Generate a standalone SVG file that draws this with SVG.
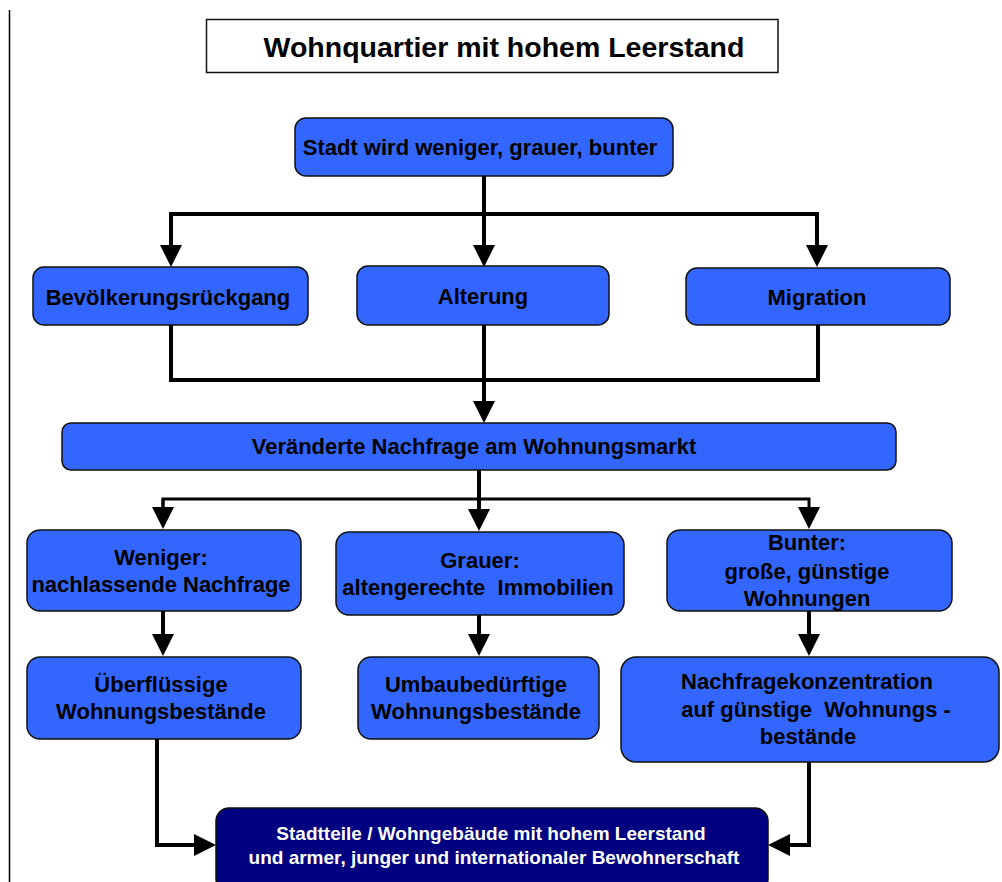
<svg xmlns="http://www.w3.org/2000/svg" width="1002" height="882" viewBox="0 0 1002 882">
<style>
.box{fill:#3366ff;stroke:#111;stroke-width:1.5}
.dark{fill:#000080;stroke:#111;stroke-width:1.5}
.t{font-family:"Liberation Sans",Arial,sans-serif;font-weight:bold;font-size:22px;fill:#000;text-anchor:middle}
.w{font-family:"Liberation Sans",Arial,sans-serif;font-weight:bold;font-size:19px;fill:#fff;text-anchor:middle}
.ln{fill:none;stroke:#000;stroke-width:4}
.ln3{fill:none;stroke:#000;stroke-width:3}
</style>
<defs>
<marker id="ah" markerUnits="userSpaceOnUse" markerWidth="22" markerHeight="22" viewBox="0 0 22 22" refX="12" refY="11" orient="auto">
<path d="M0,0 L22,11 L0,22 z" fill="#000"/>
</marker>
</defs>
<rect width="1002" height="882" fill="#fff"/>
<line x1="9.5" y1="10" x2="9.5" y2="882" stroke="#000" stroke-width="1.5"/>

<g id="title">
<rect x="206.5" y="19.5" width="571.5" height="53" fill="#fff" stroke="#111" stroke-width="1.5"/>
<text x="504" y="56.5" font-family="Liberation Sans, Arial, sans-serif" font-weight="bold" font-size="28.5" text-anchor="middle">Wohnquartier mit hohem Leerstand</text>
</g>

<g id="connectors">
<path class="ln" d="M484,176 V257" marker-end="url(#ah)"/>
<path class="ln" d="M171,257 V214 H817 V257" marker-end="url(#ah)"/>
<path class="ln" d="M171,214 V257" marker-end="url(#ah)"/>
<path class="ln" d="M171,325 V380 H818 V325"/>
<path class="ln" d="M484,325 V413" marker-end="url(#ah)"/>
<path class="ln" d="M479,470 V521" marker-end="url(#ah)"/>
<path class="ln3" d="M163,519 V499 H809 V519" marker-end="url(#ah)"/>
<path class="ln3" d="M163,499 V519" marker-end="url(#ah)"/>
<path class="ln" d="M163,611 V646" marker-end="url(#ah)"/>
<path class="ln" d="M479,615 V646" marker-end="url(#ah)"/>
<path class="ln" d="M809,611 V646" marker-end="url(#ah)"/>
<path class="ln" d="M157,739 V845 H206" marker-end="url(#ah)"/>
<path class="ln" d="M809,762 V845 H778" marker-end="url(#ah)"/>
</g>

<g id="n-stadt">
<rect class="box" x="295" y="118" width="378" height="58" rx="11"/>
<text class="t" x="480" y="155">Stadt wird weniger, grauer, bunter</text>
</g>

<g id="n-bev">
<rect class="box" x="33" y="267" width="275" height="58" rx="11"/>
<text class="t" x="168" y="305">Bevölkerungsrückgang</text>
</g>
<g id="n-alterung">
<rect class="box" x="357" y="266" width="252" height="59" rx="11"/>
<text class="t" x="483" y="304">Alterung</text>
</g>
<g id="n-migration">
<rect class="box" x="686" y="268" width="264" height="57" rx="11"/>
<text class="t" x="817" y="305">Migration</text>
</g>

<g id="n-nachfrage">
<rect class="box" x="62" y="423" width="834" height="47" rx="9"/>
<text class="t" x="474" y="454" font-size="21.6">Veränderte Nachfrage am Wohnungsmarkt</text>
</g>

<g id="n-weniger">
<rect class="box" x="27" y="530" width="274" height="81" rx="13"/>
<text class="t" x="161" y="565">Weniger:</text>
<text class="t" x="161" y="592">nachlassende Nachfrage</text>
</g>
<g id="n-grauer">
<rect class="box" x="336" y="532" width="288" height="83" rx="13"/>
<text class="t" x="480" y="568">Grauer:</text>
<text class="t" x="478" y="595" xml:space="preserve">altengerechte  Immobilien</text>
</g>
<g id="n-bunter">
<rect class="box" x="667" y="530" width="285" height="81" rx="13"/>
<text class="t" x="807" y="550">Bunter:</text>
<text class="t" x="807" y="579">große, günstige</text>
<text class="t" x="807" y="606">Wohnungen</text>
</g>

<g id="n-ueberfluessig">
<rect class="box" x="27" y="657" width="274" height="82" rx="13"/>
<text class="t" x="161" y="692">Überflüssige</text>
<text class="t" x="161" y="719">Wohnungsbestände</text>
</g>
<g id="n-umbau">
<rect class="box" x="358" y="657" width="241" height="82" rx="13"/>
<text class="t" x="476" y="692">Umbaubedürftige</text>
<text class="t" x="476" y="719">Wohnungsbestände</text>
</g>
<g id="n-konzentration">
<rect class="box" x="621" y="657" width="378" height="105" rx="15"/>
<text class="t" x="807" y="689">Nachfragekonzentration</text>
<text class="t" x="816" y="717" xml:space="preserve">auf günstige  Wohnungs -</text>
<text class="t" x="808" y="744">bestände</text>
</g>

<g id="n-ergebnis">
<rect class="dark" x="216" y="808" width="552" height="84" rx="13"/>
<text class="w" x="491" y="840">Stadtteile / Wohngebäude mit hohem Leerstand</text>
<text class="w" x="494" y="864">und armer, junger und internationaler Bewohnerschaft</text>
</g>
</svg>
